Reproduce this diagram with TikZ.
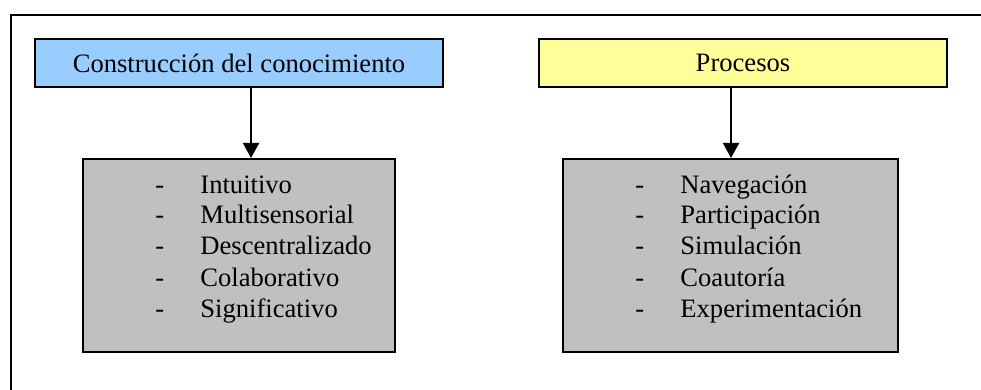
\documentclass[tikz,border=0pt]{standalone}
\usepackage{fontspec}
\setmainfont{Liberation Serif}
\usetikzlibrary{arrows.meta}
\definecolor{azulcab}{HTML}{99CCFF}
\definecolor{amarillocab}{HTML}{FFFF99}
\definecolor{grislista}{HTML}{C0C0C0}
\tikzset{
  cabecera/.style={draw,line width=1pt,minimum width=204pt,minimum height=24pt,inner sep=0pt,font=\fontsize{13.3pt}{15pt}\selectfont},
  lista/.style={draw,line width=1pt,fill=grislista,inner sep=0pt},
  item/.style={anchor=base west,inner sep=0pt,font=\fontsize{13.3pt}{15pt}\selectfont},
  flecha/.style={line width=1pt,-{Triangle[width=8pt,length=7.5pt]}}
}
\begin{document}
\begin{tikzpicture}[x=0.5pt,y=-0.5pt]
\useasboundingbox (0,0) rectangle (981,390);
\clip (0,0) rectangle (981,390);
\draw[line width=1pt] (11,15) rectangle (1000,420);

% cabeceras
\node[cabecera,fill=azulcab] (conoc) at (239,63) {Construcción del conocimiento};
\node[cabecera,fill=amarillocab] (proc) at (743,63) {Procesos};

% cajas grises
\node[lista,minimum width=156pt,minimum height=96.5pt] (lista1) at (239,255.5) {};
\node[lista,minimum width=167.5pt,minimum height=96.5pt] (lista2) at (730.5,255.5) {};

% flechas
\coordinate (f1) at (251,0);
\coordinate (f2) at (731,0);
\draw[flecha] (conoc.south -| f1) -- (lista1.north -| f1);
\draw[flecha] (proc.south -| f2) -- (lista2.north -| f2);

% elementos
\foreach \t [count=\i from 0] in {Intuitivo,Multisensorial,Descentralizado,Colaborativo,Significativo}{
  \node[item] (g1-\i) at (155,{193+31*\i}) {-};
  \node[item] (t1-\i) at (200,{193+31*\i}) {\t};
}
\foreach \t [count=\i from 0] in {Navegación,Participación,Simulación,Coautoría,Experimentación}{
  \node[item] (g2-\i) at (635,{193+31*\i}) {-};
  \node[item] (t2-\i) at (680,{193+31*\i}) {\t};
}
\end{tikzpicture}
\end{document}
